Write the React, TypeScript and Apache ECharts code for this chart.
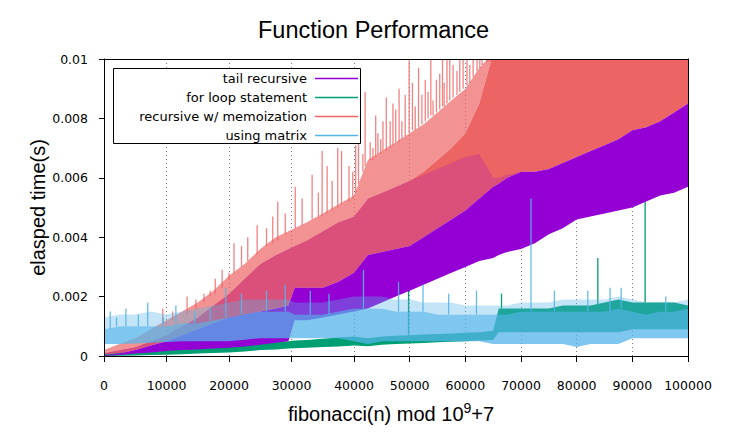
import React, { useEffect, useRef } from "react";
import * as echarts from "echarts";

// n values at which the envelopes of each timing band are sampled
const nValues = [
  0, 2500, 5000, 7500, 10000, 12500, 15000, 17500, 20000, 22500, 25000, 27500, 29500, 30500,
  32500, 35000, 37500, 40000, 42500, 45000, 47500, 50000, 52500, 55000, 57500, 60000, 62500,
  65000, 66000, 67500, 70000, 72500, 75000, 77500, 80000, 82500, 85000, 87500, 90000, 92500,
  95000, 97500, 100000,
];

// tail recursive: lower / upper edge of the band (seconds)
const tailLow = [
  0, 0.00003, 0.00008, 0.00012, 0.00017, 0.0002, 0.00022, 0.00025, 0.00028, 0.00032, 0.00038,
  0.00045, 0.0005, 0.0012, 0.0012, 0.0013, 0.0014, 0.0015, 0.0016, 0.0018, 0.002, 0.0022, 0.0024,
  0.0026, 0.0028, 0.003, 0.0032, 0.0033, 0.0034, 0.0035, 0.0036, 0.0038, 0.0041, 0.0043, 0.0046,
  0.0047, 0.0048, 0.0049, 0.005, 0.0052, 0.0054, 0.0055, 0.0057,
];
const tailTop = [
  0.0001, 0.0002, 0.0003, 0.0005, 0.0007, 0.001, 0.0013, 0.0017, 0.0021, 0.0026, 0.0031, 0.0034,
  0.0036, 0.0037, 0.0039, 0.0042, 0.0045, 0.0047, 0.0053, 0.0055, 0.0057, 0.0059, 0.0061, 0.0063,
  0.0065, 0.0067, 0.0068, 0.006, 0.006, 0.0061, 0.0062, 0.0062, 0.0063, 0.0065, 0.0067, 0.0069,
  0.0071, 0.0073, 0.0076, 0.0077, 0.0079, 0.0082, 0.0085,
];

// recursive w/ memoization: bottom, top of the dense part, top of the sparse part
const memoLow = [
  0.00002, 0.00008, 0.0002, 0.00035, 0.0005, 0.0007, 0.0009, 0.0011, 0.0013, 0.0014, 0.0015,
  0.0016, 0.0017, 0.0023, 0.0023, 0.0023, 0.0025, 0.0028, 0.0034, 0.0035, 0.0036, 0.0037, 0.004,
  0.0043, 0.0046, 0.0049, 0.0053, 0.0057, 0.0058, 0.006, 0.0062, 0.0062, 0.0063, 0.0065, 0.0067,
  0.0069, 0.0071, 0.0073, 0.0076, 0.0077, 0.0079, 0.0082, 0.0085,
];
const memoDenseTop = [
  0.0001, 0.0002, 0.0003, 0.0005, 0.0007, 0.001, 0.0013, 0.0017, 0.0021, 0.0026, 0.0031, 0.0034,
  0.0036, 0.0037, 0.0039, 0.0042, 0.0045, 0.0047, 0.0053, 0.0055, 0.0057, 0.0059, 0.0062, 0.0066,
  0.007, 0.0075, 0.0085, 0.0102, 0.0102, 0.0102, 0.0102, 0.0102, 0.0102, 0.0102, 0.0102, 0.0102,
  0.0102, 0.0102, 0.0102, 0.0102, 0.0102, 0.0102, 0.0102,
];
const memoSparseTop = [
  0.0002, 0.0004, 0.0006, 0.0009, 0.0012, 0.0015, 0.0018, 0.0022, 0.0027, 0.0031, 0.0036, 0.004,
  0.0042, 0.0043, 0.0045, 0.0048, 0.0051, 0.0054, 0.0066, 0.0069, 0.0072, 0.0075, 0.0078, 0.0082,
  0.0086, 0.009, 0.0097, 0.0102, 0.0102, 0.0102, 0.0102, 0.0102, 0.0102, 0.0102, 0.0102, 0.0102,
  0.0102, 0.0102, 0.0102, 0.0102, 0.0102, 0.0102, 0.0102,
];

// for loop statement
const loopLow = [
  0, 0.00001, 0.00002, 0.00003, 0.00004, 0.00006, 0.00008, 0.0001, 0.00012, 0.00015, 0.0002,
  0.00022, 0.00025, 0.00026, 0.00028, 0.0003, 0.00032, 0.00035, 0.00033, 0.00038, 0.0004, 0.00042,
  0.00044, 0.00046, 0.00048, 0.0005, 0.00052, 0.00054, 0.0008, 0.0008, 0.0008, 0.0008, 0.0008,
  0.0008, 0.0008, 0.0008, 0.0008, 0.0008, 0.0009, 0.0009, 0.0009, 0.0009, 0.0009,
];
const loopHigh = [
  0.00005, 0.0001, 0.00014, 0.00018, 0.00022, 0.00025, 0.00028, 0.00031, 0.00035, 0.00038,
  0.00045, 0.00048, 0.0005, 0.00052, 0.00054, 0.00058, 0.00062, 0.00066, 0.0006, 0.00066, 0.00068,
  0.0007, 0.00072, 0.00074, 0.00076, 0.00078, 0.0008, 0.00085, 0.0016, 0.0016, 0.0016, 0.0016,
  0.0016, 0.0017, 0.0017, 0.0017, 0.0018, 0.0019, 0.0018, 0.0018, 0.0018, 0.0018, 0.0017,
];

// using matrix: dense band and the sparse fringe above it
const matrixLow = [
  0.0004, 0.0004, 0.00042, 0.00045, 0.00047, 0.0005, 0.0005, 0.0005, 0.0005, 0.00055, 0.0006,
  0.0006, 0.0006, 0.0006, 0.0006, 0.0006, 0.0006, 0.0005, 0.0004, 0.0005, 0.0005, 0.0005, 0.0005,
  0.0005, 0.0005, 0.0005, 0.0005, 0.0004, 0.0004, 0.0004, 0.0004, 0.0004, 0.0004, 0.0004, 0.0003,
  0.0004, 0.0004, 0.0004, 0.0006, 0.0006, 0.0006, 0.0006, 0.0006,
];
const matrixHigh = [
  0.0009, 0.001, 0.001, 0.001, 0.001, 0.0011, 0.0011, 0.0012, 0.0013, 0.0014, 0.0015, 0.0015,
  0.0015, 0.0014, 0.0014, 0.0014, 0.0015, 0.0016, 0.0016, 0.0016, 0.0015, 0.0015, 0.0015, 0.0014,
  0.0014, 0.0014, 0.0014, 0.0014, 0.0014, 0.0014, 0.0015, 0.0015, 0.0015, 0.0015, 0.0015, 0.0015,
  0.0015, 0.0016, 0.0015, 0.0014, 0.0015, 0.0015, 0.0016,
];
const matrixSparseTop = [
  0.0013, 0.0014, 0.0014, 0.0015, 0.0014, 0.0015, 0.0016, 0.0017, 0.0018, 0.0019, 0.0019, 0.0019,
  0.0019, 0.0018, 0.0018, 0.0018, 0.0019, 0.002, 0.002, 0.002, 0.0019, 0.0019, 0.0018, 0.0018,
  0.0018, 0.0017, 0.0017, 0.0017, 0.0017, 0.0017, 0.0018, 0.0018, 0.0018, 0.0019, 0.0019, 0.0019,
  0.0019, 0.002, 0.0019, 0.0018, 0.0018, 0.0018, 0.0019,
];

// isolated slow runs: [n, from, to]
const memoSpikes = [
  [9400, 0.0011, 0.0016], [11000, 0.0012, 0.0015], [13300, 0.0014, 0.002], [14700, 0.0016, 0.0019],
  [16000, 0.0018, 0.0021], [17000, 0.002, 0.0022], [17800, 0.0021, 0.0026], [18900, 0.0023, 0.0029],
  [20000, 0.0026, 0.0028], [20800, 0.0028, 0.0038], [22000, 0.003, 0.0037], [23000, 0.0032, 0.004],
  [24500, 0.0034, 0.0044], [26000, 0.0037, 0.0043], [27000, 0.0038, 0.0047], [27800, 0.0039, 0.0052],
  [29000, 0.0041, 0.0048], [30600, 0.0043, 0.0057], [31700, 0.0044, 0.0053], [33300, 0.0046, 0.0061],
  [34300, 0.0047, 0.0055], [34900, 0.0047, 0.0069], [35700, 0.0048, 0.0064], [36500, 0.0049, 0.0059],
  [37400, 0.005, 0.007], [38000, 0.0051, 0.0069], [39200, 0.0052, 0.0064], [39800, 0.0053, 0.0062],
  [40300, 0.0055, 0.0071], [40800, 0.0058, 0.0077], [41600, 0.0062, 0.0068], [42000, 0.0064, 0.0089],
  [42900, 0.0066, 0.0072], [43400, 0.0066, 0.007], [43900, 0.0067, 0.0081], [44300, 0.0068, 0.0075],
  [44800, 0.0068, 0.0073], [45200, 0.0069, 0.0079], [45800, 0.0069, 0.0087], [46500, 0.007, 0.0079],
  [47000, 0.0071, 0.0085], [47500, 0.0072, 0.0083], [48100, 0.0072, 0.009], [48600, 0.0073, 0.0079],
  [49200, 0.0074, 0.0088], [49900, 0.0075, 0.01], [50500, 0.0076, 0.0092], [51000, 0.0076, 0.0084],
  [51600, 0.0077, 0.0097], [52200, 0.0078, 0.0088], [52800, 0.0079, 0.0093], [53300, 0.008, 0.0089],
  [53800, 0.0081, 0.01], [54200, 0.0081, 0.0086], [54800, 0.0082, 0.0093], [55400, 0.0083, 0.0095],
  [55900, 0.0084, 0.01], [56200, 0.0084, 0.0092], [56700, 0.0085, 0.01], [57200, 0.0086, 0.01],
  [57800, 0.0087, 0.0098], [58500, 0.0088, 0.0096], [59000, 0.0089, 0.01], [59600, 0.009, 0.01],
  [60300, 0.0091, 0.01], [60800, 0.0092, 0.0098], [61400, 0.0094, 0.01], [62100, 0.0096, 0.01],
  [62600, 0.0097, 0.01], [63000, 0.0098, 0.01], [63900, 0.0099, 0.01], [64400, 0.0099, 0.01],
];
const loopSpikes = [
  [49800, 0.0007, 0.0036], [66500, 0.0016, 0.0021], [83800, 0.0017, 0.0033], [92300, 0.0018, 0.0054],
];
const matrixSpikes = [
  [1000, 0.0009, 0.0015], [2000, 0.001, 0.0013], [3500, 0.001, 0.0016], [5500, 0.001, 0.0014],
  [7000, 0.001, 0.0018], [9500, 0.001, 0.0013], [11500, 0.0011, 0.0017], [14500, 0.0011, 0.0015],
  [17000, 0.0012, 0.0016], [19500, 0.0013, 0.0023], [22000, 0.0014, 0.0021], [26000, 0.0015, 0.0022],
  [29000, 0.0015, 0.0024], [33000, 0.0014, 0.0022], [36000, 0.0014, 0.0021], [41700, 0.0016, 0.0029],
  [48000, 0.0015, 0.0025], [52400, 0.0015, 0.0024], [57000, 0.0014, 0.0021], [62000, 0.0014, 0.0022],
  [71800, 0.0015, 0.0053], [76000, 0.0015, 0.0022], [82000, 0.0015, 0.0022], [86000, 0.0015, 0.0023],
  [88000, 0.0016, 0.0023], [96000, 0.0015, 0.002],
];

const seriesNames = ["tail recursive", "for loop statement", "recursive w/ memoization", "using matrix"];
const seriesColors = ["#9400d3", "#009e73", "#ec6464", "#56b4e9"];
const [PURPLE, GREEN, PINK, BLUE] = seriesColors;

// the x scale changes pace at n = 40000, so the plot is built from two adjacent grids
const X_BREAK = 40000;
const X_MAX = 100000;
const Y_MAX = 0.01;
const PLOT = { left: 104, split: 354, right: 688, top: 59, bottom: 356 };

const FONT_SANS = "Liberation Sans, Arial, sans-serif";
const FONT_TICKS = "DejaVu Sans, Verdana, sans-serif";

// a filled band between two envelopes, drawn as one polygon through the axis scales
function bandSeries(gi: number, idx: number[], lower: number[], upper: number[], color: string, opacity: number, z: number) {
  const data = idx.map((i) => [nValues[i], lower[i], Math.max(lower[i], upper[i])]);
  return {
    type: "custom",
    xAxisIndex: gi,
    yAxisIndex: gi,
    silent: true,
    clip: true,
    z,
    data,
    encode: { x: 0, y: [1, 2] },
    renderItem: (params: any, api: any) => {
      if (params.dataIndex !== 0) return null;
      const top = data.map((d) => api.coord([d[0], d[2]]));
      const bottom = data.map((d) => api.coord([d[0], d[1]])).reverse();
      return {
        type: "polygon",
        shape: { points: top.concat(bottom) },
        style: { fill: color, opacity },
      };
    },
  };
}

function spikeSeries(gi: number, list: number[][], color: string, opacity: number, width: number, z: number) {
  return {
    type: "custom",
    xAxisIndex: gi,
    yAxisIndex: gi,
    silent: true,
    clip: true,
    z,
    data: list,
    encode: { x: 0, y: [1, 2] },
    renderItem: (_params: any, api: any) => {
      const a = api.coord([api.value(0), api.value(1)]);
      const b = api.coord([api.value(0), api.value(2)]);
      return {
        type: "line",
        shape: { x1: a[0], y1: a[1], x2: b[0], y2: b[1] },
        style: { stroke: color, lineWidth: width, opacity },
      };
    },
  };
}

function buildSeries() {
  const tailSolidTop = tailTop.map((v, i) => Math.min(v, memoLow[i]));
  const out: any[] = [];
  [0, 1].forEach((gi) => {
    const from = gi === 0 ? 0 : X_BREAK;
    const to = gi === 0 ? X_BREAK : X_MAX;
    const idx = nValues.map((_, i) => i).filter((i) => nValues[i] >= from && nValues[i] <= to);
    const inGrid = (s: number[]) => (gi === 0 ? s[0] <= X_BREAK : s[0] > X_BREAK);
    out.push(
      bandSeries(gi, idx, memoDenseTop, memoSparseTop, PINK, 0.7, 2),
      spikeSeries(gi, memoSpikes.filter(inGrid), PINK, 0.8, 1.3, 3),
      bandSeries(gi, idx, memoLow, memoDenseTop, PINK, 1, 4),
      bandSeries(gi, idx, loopLow, loopHigh, GREEN, 1, 5),
      spikeSeries(gi, loopSpikes.filter(inGrid), GREEN, 1, 1.3, 6),
      bandSeries(gi, idx, tailLow, tailSolidTop, PURPLE, 1, 7),
      bandSeries(gi, idx, memoLow, tailTop, PURPLE, 0.2, 8),
      bandSeries(gi, idx, matrixHigh, matrixSparseTop, BLUE, 0.35, 9),
      bandSeries(gi, idx, matrixLow, matrixHigh, BLUE, 0.75, 10),
      spikeSeries(gi, matrixSpikes.filter(inGrid), BLUE, 0.9, 1.3, 11)
    );
  });
  return out;
}

function buildLegend() {
  const box = { x: 113.5, y: 68.5, width: 247, height: 75 };
  const elems: any[] = [
    { type: "rect", z: 60, silent: true, shape: box, style: { fill: "#fff", stroke: "#000", lineWidth: 1 } },
  ];
  seriesNames.forEach((name, i) => {
    const y = 78 + i * 19;
    elems.push({
      type: "text",
      z: 61,
      silent: true,
      x: 307,
      y,
      style: {
        text: name,
        fill: "#000",
        font: `13px ${FONT_TICKS}`,
        textAlign: "right",
        textVerticalAlign: "middle",
        align: "right",
        verticalAlign: "middle",
      },
    });
    elems.push({
      type: "line",
      z: 61,
      silent: true,
      shape: { x1: 315, y1: y + 0.5, x2: 358, y2: y + 0.5 },
      style: { stroke: seriesColors[i], lineWidth: 1.5 },
    });
  });
  return elems;
}

const tickLabel = { color: "#000", fontFamily: FONT_TICKS, fontSize: 12.5 };
const tickLine = { lineStyle: { color: "#000", width: 1 } };
const gridDots = { show: true, lineStyle: { color: "#7a7a7a", width: 1, type: [1, 3] } };

export default function App() {
  const ref = useRef<HTMLDivElement>(null);

  useEffect(() => {
    if (!ref.current) return;
    const chart = echarts.init(ref.current, null, { renderer: "svg" });
    const plotHeight = PLOT.bottom - PLOT.top;
    chart.setOption({
      animation: false,
      backgroundColor: "#fff",
      title: {
        text: "Function Performance",
        left: 253,
        top: 13,
        textStyle: { fontFamily: FONT_SANS, fontSize: 23.5, fontWeight: "normal", color: "#000" },
      },
      grid: [
        { left: PLOT.left, top: PLOT.top, width: PLOT.split - PLOT.left, height: plotHeight, outerBoundsMode: "none" },
        { left: PLOT.split, top: PLOT.top, width: PLOT.right - PLOT.split, height: plotHeight, outerBoundsMode: "none" },
        { left: PLOT.left, top: PLOT.top, width: PLOT.right - PLOT.left, height: plotHeight, outerBoundsMode: "none" },
      ],
      xAxis: [
        {
          gridIndex: 0,
          type: "value",
          min: 0,
          max: X_BREAK,
          interval: 10000,
          axisLine: { show: true, lineStyle: { color: "#000" } },
          axisTick: { show: true, inside: false, length: 6, ...tickLine },
          axisLabel: { ...tickLabel, margin: 23, formatter: (v: number) => String(v) },
          splitLine: { ...gridDots, showMinLine: false, showMaxLine: true },
        },
        {
          gridIndex: 1,
          type: "value",
          min: X_BREAK,
          max: X_MAX,
          interval: 10000,
          axisLine: { show: true, lineStyle: { color: "#000" } },
          axisTick: { show: true, inside: false, length: 6, ...tickLine },
          axisLabel: { ...tickLabel, margin: 23, showMinLabel: false, formatter: (v: number) => String(v) },
          splitLine: { ...gridDots, showMinLine: false, showMaxLine: false },
        },
        {
          gridIndex: 2,
          type: "value",
          min: 0,
          max: X_MAX,
          axisLine: { show: false },
          axisTick: { show: false },
          axisLabel: { show: false },
          splitLine: { show: false },
          name: "fibonacci(n) mod 10{sup|9}+7",
          nameLocation: "middle",
          nameGap: 45,
          nameTextStyle: {
            color: "#000",
            fontFamily: FONT_SANS,
            fontSize: 20,
            lineHeight: 26,
            padding: [0, 10, 0, 0],
            rich: {
              sup: { color: "#000", fontFamily: FONT_SANS, fontSize: 14, lineHeight: 18, verticalAlign: "top" },
            },
          },
        },
      ],
      yAxis: [
        {
          gridIndex: 0,
          type: "value",
          min: 0,
          max: Y_MAX,
          interval: 0.002,
          axisLine: { show: true, lineStyle: { color: "#000" } },
          axisTick: { show: true, inside: false, length: 5, ...tickLine },
          axisLabel: {
            ...tickLabel,
            margin: 16,
            formatter: (v: number) => (v === 0 ? "0" : String(parseFloat(v.toFixed(3)))),
          },
          splitLine: { show: false },
          name: "elasped time(s)",
          nameLocation: "middle",
          nameGap: 55,
          nameTextStyle: { color: "#000", fontFamily: FONT_SANS, fontSize: 20 },
        },
        {
          gridIndex: 1,
          type: "value",
          position: "right",
          min: 0,
          max: Y_MAX,
          interval: 0.002,
          axisLine: { show: true, lineStyle: { color: "#000" } },
          axisTick: { show: false },
          axisLabel: { show: false },
          splitLine: { show: false },
        },
        { gridIndex: 2, type: "value", min: 0, max: Y_MAX, show: false },
      ],
      series: buildSeries(),
      graphic: [
        {
          type: "rect",
          z: 50,
          silent: true,
          shape: {
            x: PLOT.left + 0.5,
            y: PLOT.top + 0.5,
            width: PLOT.right - PLOT.left,
            height: plotHeight,
          },
          style: { fill: "none", stroke: "#000", lineWidth: 1 },
        },
        ...buildLegend(),
      ],
    });
    return () => chart.dispose();
  }, []);

  return (
    <div
      ref={ref}
      style={{ position: "fixed", left: 0, top: 0, width: 743, height: 442, background: "#fff" }}
    />
  );
}
